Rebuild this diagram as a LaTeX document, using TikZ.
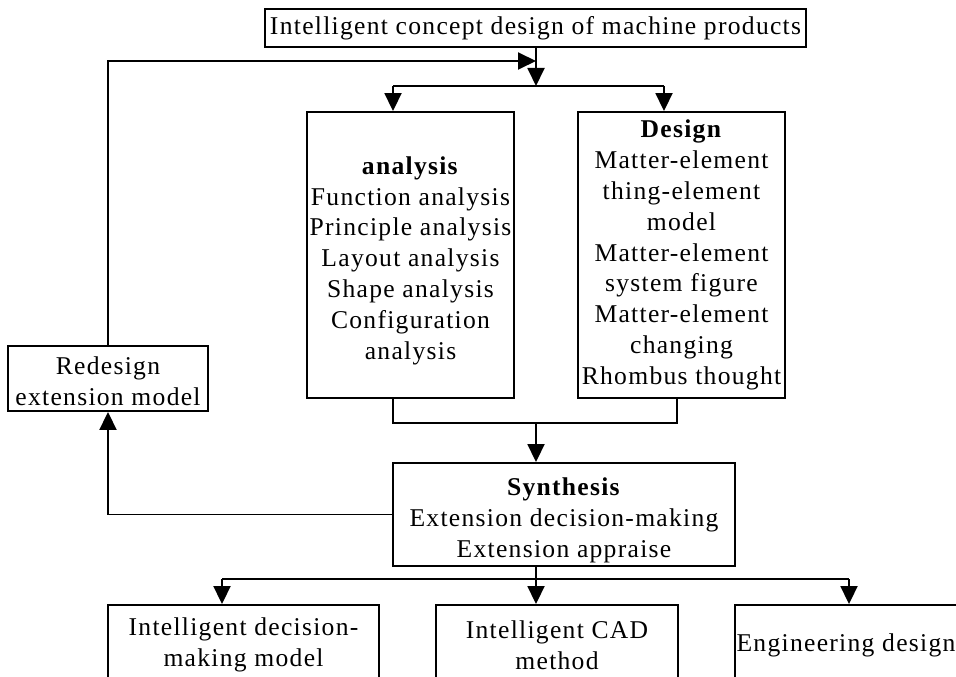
\documentclass[tikz,border=0pt]{standalone}
\usepackage{fontspec}
\setmainfont{Liberation Serif}[LetterSpace=5]
\usetikzlibrary{arrows.meta}
\begin{document}
\begin{tikzpicture}[x=1pt,y=-1pt,
  box/.style={draw, line width=1.9pt, inner sep=0pt, align=center,
    font=\fontsize{25.6}{30.8}\selectfont},
  ln/.style={line width=1.9pt},
  arr/.style={line width=1.9pt, -{Triangle[length=18pt,width=17pt]}}]
\useasboundingbox (0,0) rectangle (956,677);
\clip (0,0) rectangle (956,677);
\node[box, minimum width=541pt, minimum height=38pt] (top) at (535.5,28)
  {Intelligent concept design of machine products};
\node[box, minimum width=207pt, minimum height=286pt] (ana) at (410.5,255)
  {\rule{0pt}{29pt}\textbf{analysis}\\Function analysis\\Principle analysis\\Layout analysis\\Shape analysis\\Configuration\\analysis};
\node[box, minimum width=207pt, minimum height=286pt] (des) at (681.5,255)
  {\textbf{Design}\\Matter-element\\thing-element\\model\\Matter-element\\system figure\\Matter-element\\changing\\Rhombus thought};
\node[box, minimum width=200pt, minimum height=65pt] (red) at (108,378.5)
  {\rule{0pt}{24pt}Redesign\\extension model};
\node[box, minimum width=342pt, minimum height=103pt] (syn) at (564,514.5)
  {\rule{0pt}{29pt}\textbf{Synthesis}\\Extension decision-making\\Extension appraise};
\node[box, minimum width=271pt, minimum height=80pt] (b1) at (243.5,645)
  {Intelligent decision-\\making model};
\node[box, minimum width=242pt, minimum height=80pt] (b2) at (557,645)
  {Intelligent CAD\\method};
\node[box, minimum width=222pt, minimum height=80pt] (b3) at (846,645)
  {Engineering design};
% junctions
\coordinate (jTop) at (536,86);
\coordinate (jA) at (393,86);
\coordinate (jD) at (664,86);
\coordinate (jFb) at (536,61);
\coordinate (aB) at (393,423);
\coordinate (dB) at (677,423);
\coordinate (jB) at (536,423);
\coordinate (jS) at (536,579);
\coordinate (jL) at (222,579);
\coordinate (jR) at (849,579);
% connectors
\draw[arr] (top.south -| jTop) -- (jTop);
\draw[ln] (jA) -- (jD);
\draw[arr] (jA) -- (jA |- ana.north);
\draw[arr] (jD) -- (jD |- des.north);
\draw[arr] (red.north) |- (jFb);
\draw[ln] (aB |- ana.south) -- (aB) -- (dB) -- (dB |- des.south);
\draw[arr] (jB) -- (jB |- syn.north);
\draw[arr] (syn.west) -| (red.south);
\draw[ln] (jS |- syn.south) -- (jS);
\draw[ln] (jL) -- (jR);
\draw[arr] (jS) -- (jS |- b2.north);
\draw[arr] (jL) -- (jL |- b1.north);
\draw[arr] (jR) -- (jR |- b3.north);
\end{tikzpicture}
\end{document}
